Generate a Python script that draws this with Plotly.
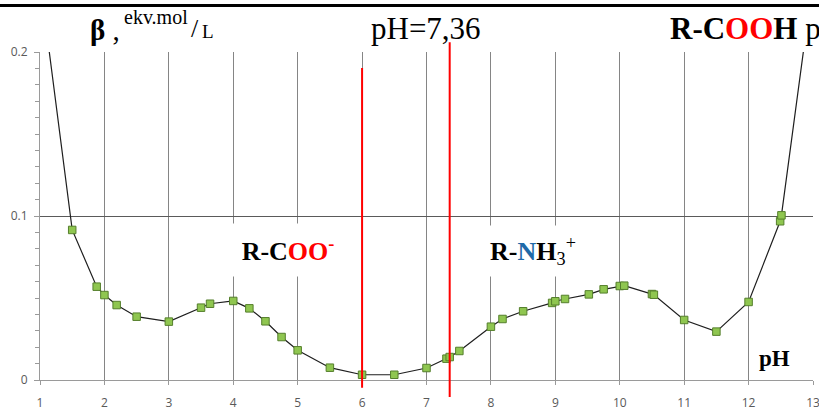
import plotly.graph_objects as go

# buffer capacity curve
ph = [1.0, 1.5, 1.88, 2.0, 2.19, 2.5, 3.0, 3.5, 3.64, 4.0, 4.25, 4.5, 4.75, 5.0,
      5.5, 6.0, 6.5, 7.0, 7.31, 7.36, 7.51, 8.0, 8.18, 8.5, 8.95, 9.0, 9.15,
      9.52, 9.75, 10.0, 10.07, 10.5, 10.53, 11.0, 11.5, 12.0, 12.49, 12.51, 13.0]
beta = [0.244, 0.0915, 0.0569, 0.0518, 0.0457, 0.0386, 0.0356, 0.0441, 0.0465,
        0.0482, 0.0437, 0.0358, 0.0262, 0.0181, 0.0075, 0.0032, 0.0032, 0.0073,
        0.013, 0.014, 0.0177, 0.0325, 0.0372, 0.0419, 0.047, 0.048, 0.0494,
        0.0522, 0.0553, 0.0573, 0.0575, 0.0524, 0.052, 0.0366, 0.0295, 0.0476,
        0.0968, 0.1004, 0.244]

# red marker lines
red_lines = [6.0, 7.36]
red_span = [(-0.024, 0.951), (-0.052, 1.030)]  # paper coords (bottom/top)

x_ticks = list(range(1, 14))
y_ticks = [0, 0.1, 0.2]
y_labels = ['0', '0.1', '0.2']

serif = 'Liberation Serif'

fig = go.Figure()
fig.add_trace(go.Scatter(
    x=ph, y=beta, mode='lines+markers',
    line=dict(color='#1e1e1e', width=1.2),
    marker=dict(symbol='square', size=7.5, color='#8fc650',
                line=dict(color='#557f2c', width=1)),
    showlegend=False))

for xv, (b, t) in zip(red_lines, red_span):
    fig.add_shape(type='line', xref='x', yref='paper', x0=xv, x1=xv, y0=b, y1=t,
                  line=dict(color='#ff0000', width=2))

# black rule across the very top
fig.add_shape(type='rect', xref='paper', yref='paper', x0=-0.06, x1=1.02, y0=1.137, y1=1.146,
              fillcolor='black', line=dict(width=0), layer='above')


def label(x, y, text, size, xref='x', yref='paper', xanchor='center', **kw):
    fig.add_annotation(x=x, y=y, xref=xref, yref=yref, showarrow=False, text=text,
                       xanchor=xanchor, yanchor='middle',
                       font=dict(family=serif, size=size, color='black'), **kw)


# labels inside the plot
label(4.85, 0.0793,
      "<b>R-C<span style='color:#ff0000'>OO</span><sup><span style='color:#ff0000'>-</span></sup></b>",
      26, yref='y', bgcolor='white', width=112, height=50)
label(8.66, 0.0787,
      "<b>R-<span style='color:#1f6aa8'>N</span>H</b><sub>3</sub><sup>+</sup>",
      26, yref='y', bgcolor='white', width=106, height=48)
label(12.41, 0.0134, '<b>pH</b>', 23, yref='y')

# labels above the plot
label(6.99, 1.073, 'pH=7,36', 31)
label(10.75, 1.073, "<b>R-C<span style='color:#ff0000'>OO</span>H</b> p", 31, xanchor='left')
label(1.74, 1.067, '<b>β</b> ,', 29, xanchor='left')
label(2.28, 1.107, 'ekv.mol', 20, xanchor='left')
label(3.31, 1.073, '/', 26, xanchor='left')
label(3.48, 1.062, 'L', 19, xanchor='left')

fig.update_xaxes(range=[1, 13], tickvals=x_ticks, showgrid=True, gridcolor='#858585', gridwidth=1,
                 showline=True, linecolor='#9a9a9a', linewidth=1, zeroline=False,
                 ticks='outside', ticklen=4, tickcolor='#9a9a9a', ticklabelstandoff=8,
                 ticklabeloverflow='allow', automargin=False,
                 tickfont=dict(family='Open Sans', size=12, color='#595959'))
fig.update_yaxes(range=[0, 0.2], tickvals=y_ticks, ticktext=y_labels, showgrid=True,
                 gridcolor='#5a5a5a', gridwidth=1, showline=True, linecolor='#9a9a9a',
                 linewidth=1, zeroline=False, ticks='outside', ticklen=5, tickcolor='#9a9a9a',
                 ticklabelstandoff=4, automargin=False,
                 minor=dict(dtick=0.01, ticks='outside', ticklen=4, tickcolor='#9a9a9a', showgrid=False),
                 tickfont=dict(family='Open Sans', size=12, color='#595959'))

fig.update_layout(width=819, height=410, margin=dict(l=40, r=6, t=52, b=30),
                  plot_bgcolor='white', paper_bgcolor='white', showlegend=False)

# drop the default page margin so the figure sits at the window's corner
fig.write_html('out.html', config={'displayModeBar': False},
               post_script="document.body.style.margin='0';")
